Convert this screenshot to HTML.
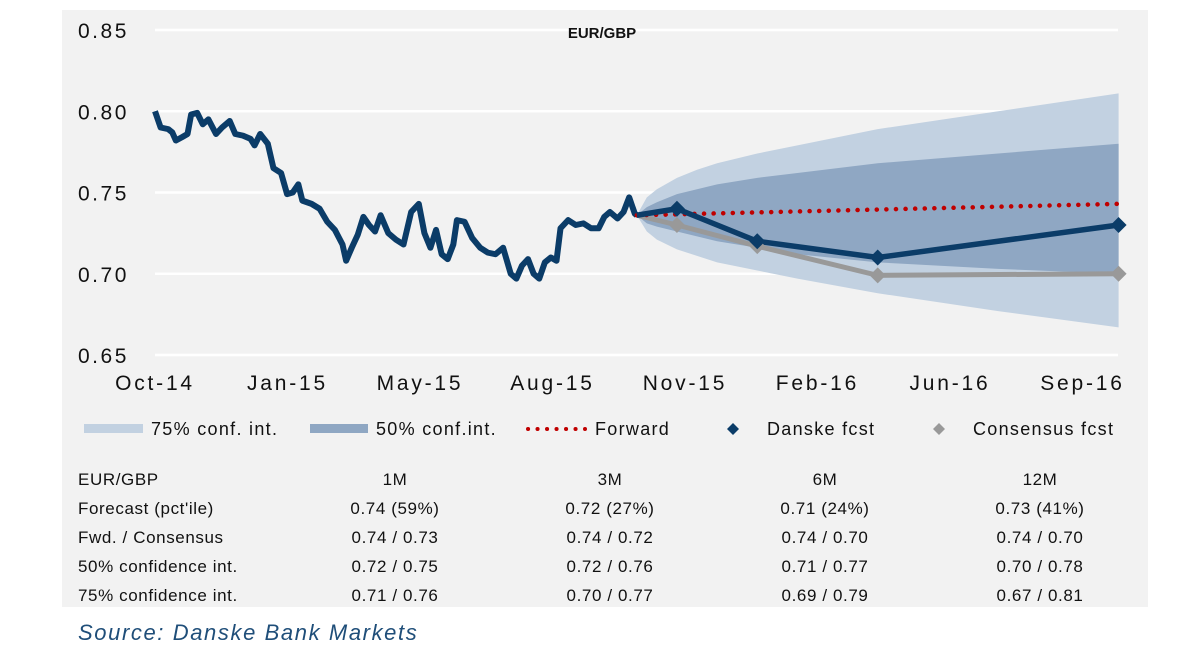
<!DOCTYPE html>
<html><head><meta charset="utf-8"><style>
html,body{margin:0;padding:0;background:#fff;width:1182px;height:654px;overflow:hidden}
svg text{font-family:"Liberation Sans",sans-serif;fill:#111}
</style></head><body>
<svg id="chart" width="1182" height="654" viewBox="0 0 1182 654" xmlns="http://www.w3.org/2000/svg">
<rect x="62" y="10" width="1086" height="597" fill="#f2f2f2"/>
<g id="grid"></g>
<g id="bands"></g>
<g id="lines"></g>
<g id="yaxis"></g>
<g id="xaxis"></g>
<text x="602" y="38" font-size="15" font-weight="bold" text-anchor="middle">EUR/GBP</text>
<g font-size="18" letter-spacing="1.3">
 <g><rect x="84" y="424" width="59" height="9" fill="#c2d1e1"/><text x="151" y="435" font-size="18">75% conf. int.</text></g>
 <g><rect x="310" y="424" width="58" height="9" fill="#8fa7c3"/><text x="376" y="435" font-size="18">50% conf.int.</text></g>
 <g><line x1="528" y1="429" x2="585" y2="429" stroke="#c00000" stroke-width="4" stroke-dasharray="0.1 9.4" stroke-linecap="round"/><text x="595" y="435" font-size="18">Forward</text></g>
 <g><path d="M733 423 L739 429 L733 435 L727 429Z" fill="#0b3c68"/><text x="767" y="435" font-size="18">Danske fcst</text></g>
 <g><path d="M939 423 L945 429 L939 435 L933 429Z" fill="#999"/><text x="973" y="435" font-size="18">Consensus fcst</text></g>
</g>
<g id="table" font-size="17"></g>
<text x="78" y="640" font-size="22" font-style="italic" letter-spacing="1.6" style="fill:#1f4e79">Source: Danske Bank Markets</text>
</svg>
<script>
const yTicks=[0.85,0.80,0.75,0.70,0.65];
const xTickLabels=["Oct-14","Jan-15","May-15","Aug-15","Nov-15","Feb-16","Jun-16","Sep-16"];
const xTickMonths=[0,3.3,6.6,9.9,13.2,16.5,19.8,23.1];
const histMonths=[0,0.14,0.33,0.43,0.52,0.67,0.81,0.9,1.05,1.19,1.33,1.52,1.67,1.86,2,2.19,2.38,2.48,2.62,2.81,2.95,3.14,3.29,3.43,3.57,3.67,3.9,4.1,4.29,4.48,4.67,4.76,4.9,5.05,5.19,5.33,5.48,5.62,5.81,6,6.19,6.38,6.57,6.71,6.86,7,7.14,7.29,7.43,7.52,7.71,7.9,8.1,8.29,8.48,8.67,8.86,9,9.14,9.29,9.43,9.57,9.71,9.86,10,10.1,10.29,10.48,10.67,10.86,11.05,11.19,11.33,11.52,11.67,11.81,11.95,12];
const histValues=[0.800,0.790,0.789,0.787,0.782,0.784,0.786,0.798,0.799,0.792,0.795,0.786,0.790,0.794,0.786,0.785,0.783,0.779,0.786,0.780,0.765,0.762,0.749,0.750,0.755,0.745,0.743,0.740,0.732,0.727,0.718,0.708,0.716,0.724,0.735,0.730,0.726,0.736,0.725,0.721,0.718,0.738,0.743,0.725,0.716,0.727,0.712,0.709,0.718,0.733,0.732,0.722,0.716,0.713,0.712,0.716,0.700,0.697,0.705,0.709,0.700,0.697,0.707,0.710,0.708,0.728,0.733,0.730,0.731,0.728,0.728,0.735,0.738,0.734,0.738,0.747,0.737,0.736];
const fcstMonths=[12,13,15,18,24];
const danske=[0.736,0.740,0.720,0.710,0.730];
const consensus=[0.736,0.730,0.717,0.699,0.700];
const fwdMonths=[12,24];
const forward=[0.736,0.743];
const bandMonths=[12,12.25,12.5,13,13.5,14,15,16,18,21,24];
const band75Up=[0.736,0.747,0.752,0.759,0.764,0.768,0.774,0.779,0.789,0.800,0.811];
const band75Lo=[0.736,0.726,0.721,0.715,0.711,0.707,0.702,0.697,0.688,0.677,0.667];
const band50Up=[0.736,0.741,0.744,0.749,0.752,0.755,0.759,0.762,0.768,0.774,0.780];
const band50Lo=[0.736,0.731,0.729,0.726,0.723,0.720,0.716,0.712,0.707,0.703,0.700];
const tableHeader=["EUR/GBP","1M","3M","6M","12M"];
const tableRows=[["Forecast (pct'ile)","0.74 (59%)","0.72 (27%)","0.71 (24%)","0.73 (41%)"],
["Fwd. / Consensus","0.74 / 0.73","0.74 / 0.72","0.74 / 0.70","0.74 / 0.70"],
["50% confidence int.","0.72 / 0.75","0.72 / 0.76","0.71 / 0.77","0.70 / 0.78"],
["75% confidence int.","0.71 / 0.76","0.70 / 0.77","0.69 / 0.79","0.67 / 0.81"]];

const NS="http://www.w3.org/2000/svg";
const X=m=>155+m*40.15;
const Y=v=>30+(0.85-v)/0.20*325;
function mk(tag,attrs,parent){const e=document.createElementNS(NS,tag);for(const k in attrs)e.setAttribute(k,attrs[k]);parent.appendChild(e);return e;}
const grid=document.getElementById('grid'),yax=document.getElementById('yaxis'),xax=document.getElementById('xaxis');
yTicks.forEach(v=>{
 const l=mk('line',{x1:155,x2:1118,y1:Y(v),y2:Y(v),stroke:'#fff','stroke-width':2.5},grid);
 
 
 const t=mk('text',{x:78,y:Y(v)+8,'font-size':21,'letter-spacing':2.5},yax);t.textContent=v.toFixed(2);
 
 
});
xTickLabels.forEach((s,i)=>{
 const t=mk('text',{x:X(xTickMonths[i]),y:390,'font-size':21,'letter-spacing':2.8,'text-anchor':'middle'},xax);t.textContent=s;
 
 
});
const bands=document.getElementById('bands');
function bandPath(up,lo){let d='';bandMonths.forEach((m,i)=>{d+=(i?'L':'M')+X(m)+' '+Y(up[i])+' ';});for(let i=bandMonths.length-1;i>=0;i--)d+='L'+X(bandMonths[i])+' '+Y(lo[i])+' ';return d+'Z';}
const b75=mk('path',{d:bandPath(band75Up,band75Lo),fill:'#c2d1e1'},bands);


const b50=mk('path',{d:bandPath(band50Up,band50Lo),fill:'#8fa7c3'},bands);


const lines=document.getElementById('lines');
function pts(ms,vs){return ms.map((m,i)=>X(m)+','+Y(vs[i])).join(' ');}
const hl=mk('polyline',{points:pts(histMonths,histValues),fill:'none',stroke:'#0b3c68','stroke-width':6,'stroke-linejoin':'round'},lines);


const cl=mk('polyline',{points:pts(fcstMonths,consensus),fill:'none',stroke:'#999','stroke-width':5,'stroke-linejoin':'round'},lines);


const fl=mk('polyline',{points:pts(fwdMonths,forward),fill:'none',stroke:'#c00000','stroke-width':4.5,'stroke-dasharray':'0.1 9.5','stroke-linecap':'round'},lines);


const dl=mk('polyline',{points:pts(fcstMonths,danske),fill:'none',stroke:'#0b3c68','stroke-width':5.5,'stroke-linejoin':'round'},lines);


function diamond(m,v,c,name){const x=X(m),y=Y(v);const p=mk('path',{d:`M${x} ${y-8} L${x+8} ${y} L${x} ${y+8} L${x-8} ${y}Z`,fill:c},lines);
 
 }
for(let i=1;i<fcstMonths.length;i++){diamond(fcstMonths[i],consensus[i],'#999','consensus-marker');}
for(let i=1;i<fcstMonths.length;i++){diamond(fcstMonths[i],danske[i],'#0b3c68','danske-marker');}
const table=document.getElementById('table');
const colX=[78,395,610,825,1040];
const rowY=[485,514,543,572,601];
[tableHeader].concat(tableRows).forEach((row,r)=>{row.forEach((s,c)=>{
 const t=mk('text',{x:colX[c],y:rowY[r],'font-size':17,'letter-spacing':0.6,'text-anchor':c?'middle':'start'},table);t.textContent=s;
 
 
});});
</script>
</body></html>
